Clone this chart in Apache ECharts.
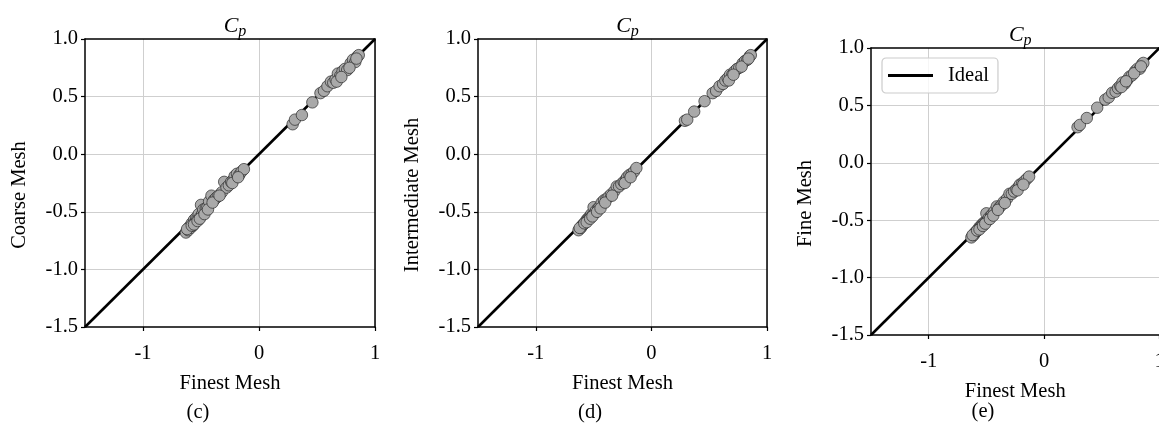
<!DOCTYPE html>
<html><head><meta charset="utf-8">
<script src="https://cdn.jsdelivr.net/npm/echarts@6/dist/echarts.min.js"></script>
<style>html,body{margin:0;padding:0;background:#fff}#c{width:1159px;height:435px}</style>
</head><body><div id="c"></div>
<script>
// ---- data ----
const finest = [-0.63,-0.61,-0.60,-0.59,-0.58,-0.57,-0.56,-0.55,-0.54,-0.53,
  -0.52,-0.51,-0.50,-0.49,-0.48,-0.46,-0.45,-0.43,-0.41,-0.39,
  -0.37,-0.35,-0.32,-0.30,-0.28,-0.26,-0.24,-0.22,-0.21,-0.19,
  -0.17,-0.15,-0.13,
  -0.62,-0.58,-0.56,-0.53,-0.51,-0.47,-0.44,-0.40,-0.34,-0.23,-0.18,
  0.29,0.31,0.37,0.46,0.53,0.56,0.59,0.62,0.64,0.66,
  0.68,0.70,0.72,0.74,0.76,0.79,0.81,0.83,0.85,0.86,
  0.67,0.71,0.78,0.84];
const coarse = [-0.68,-0.66,-0.63,-0.64,-0.60,-0.62,-0.57,-0.59,-0.55,-0.56,
  -0.52,-0.55,-0.44,-0.52,-0.48,-0.47,-0.47,-0.41,-0.36,-0.40,
  -0.38,-0.36,-0.33,-0.24,-0.29,-0.27,-0.24,-0.22,-0.19,-0.17,
  -0.18,-0.15,-0.13,
  -0.65,-0.62,-0.61,-0.58,-0.56,-0.52,-0.48,-0.42,-0.36,-0.25,-0.20,
  0.26,0.30,0.34,0.45,0.53,0.55,0.59,0.63,0.62,0.65,
  0.70,0.68,0.72,0.74,0.73,0.79,0.82,0.80,0.85,0.86,
  0.63,0.67,0.75,0.83];
const intermediate = [-0.66,-0.64,-0.62,-0.61,-0.60,-0.59,-0.57,-0.56,-0.55,-0.54,
  -0.52,-0.53,-0.46,-0.51,-0.49,-0.47,-0.46,-0.42,-0.40,-0.39,
  -0.37,-0.35,-0.32,-0.28,-0.28,-0.26,-0.24,-0.22,-0.20,-0.18,
  -0.17,-0.15,-0.12,
  -0.64,-0.60,-0.59,-0.56,-0.54,-0.50,-0.47,-0.42,-0.36,-0.25,-0.20,
  0.29,0.30,0.37,0.46,0.53,0.55,0.59,0.61,0.64,0.66,
  0.69,0.69,0.72,0.74,0.75,0.79,0.81,0.82,0.85,0.86,
  0.64,0.69,0.76,0.83];
const fine = [-0.65,-0.63,-0.61,-0.60,-0.59,-0.58,-0.56,-0.56,-0.54,-0.53,
  -0.52,-0.52,-0.44,-0.50,-0.48,-0.46,-0.45,-0.42,-0.38,-0.39,
  -0.37,-0.34,-0.31,-0.27,-0.27,-0.25,-0.23,-0.21,-0.19,-0.18,
  -0.16,-0.14,-0.12,
  -0.63,-0.59,-0.58,-0.55,-0.53,-0.49,-0.46,-0.41,-0.35,-0.24,-0.19,
  0.31,0.33,0.39,0.48,0.55,0.57,0.61,0.62,0.65,0.67,
  0.70,0.69,0.72,0.75,0.76,0.80,0.82,0.82,0.86,0.87,
  0.66,0.71,0.78,0.84];
const xTickValues = [-1, 0, 1];
const axisMin = -1.5, axisMax = 1, yInterval = 0.5;
const idealLine = [[-1.5, -1.5], [1, 1]];
const yNames = ['Coarse Mesh', 'Intermediate Mesh', 'Fine Mesh'];
const xName = 'Finest Mesh';
const captions = ['(c)', '(d)', '(e)'];
const legendName = 'Ideal';

// ---- layout / style ----
const FONT = 'Liberation Serif';
const FS = 20.5;
const layouts = [
  {left: 85, top: 39, width: 290, height: 288, yGap: 55, titleY: 7, cap: [198, 413]},
  {left: 478, top: 39, width: 289, height: 288, yGap: 55, titleY: 7, cap: [590, 413]},
  {left: 871, top: 48, width: 288.5, height: 287, yGap: 55, titleY: 16, cap: [983, 412]}
];
const ySets = [coarse, intermediate, fine];

const grid = [], xAxis = [], yAxis = [], series = [], title = [], graphic = [];
layouts.forEach((L, i) => {
  grid.push({left: L.left, top: L.top, width: L.width, height: L.height,
    containLabel: false, outerBoundsMode: 'none'});
  title.push({
    text: '{c|C}{p|p}', left: L.left + L.width / 2, top: L.titleY, textAlign: 'center',
    textStyle: {fontWeight: 'normal', rich: {
      c: {fontFamily: FONT, fontStyle: 'italic', fontWeight: 'normal', fontSize: 22, color: '#000'},
      p: {fontFamily: FONT, fontStyle: 'italic', fontWeight: 'normal', fontSize: 16, color: '#000', padding: [12, 0, 0, 0]}
    }}
  });
  graphic.push({type: 'text', x: L.cap[0], y: L.cap[1],
    style: {text: captions[i], font: FS + 'px "' + FONT + '"', fill: '#000', align: 'center', verticalAlign: 'middle'}});
});
// main axes
layouts.forEach((L, i) => {
  xAxis.push({
    gridIndex: i, type: 'value', min: axisMin, max: axisMax, position: 'bottom',
    axisLine: {show: true, onZero: false, lineStyle: {color: '#000', width: 1.5}},
    axisTick: {show: true, length: 4, customValues: xTickValues, lineStyle: {color: '#000', width: 1.2}},
    axisLabel: {customValues: xTickValues, color: '#000', fontFamily: FONT, fontSize: FS, margin: 16},
    splitLine: {show: true, lineStyle: {color: '#cfcfcf', width: 1}},
    name: xName, nameLocation: 'middle', nameGap: 46,
    nameTextStyle: {color: '#000', fontFamily: FONT, fontSize: FS}
  });
  yAxis.push({
    gridIndex: i, type: 'value', min: axisMin, max: axisMax, interval: yInterval, position: 'left',
    axisLine: {show: true, onZero: false, lineStyle: {color: '#000', width: 1.5}},
    axisTick: {show: true, length: 4, lineStyle: {color: '#000', width: 1.2}},
    axisLabel: {color: '#000', fontFamily: FONT, fontSize: FS, margin: 7, formatter: v => v.toFixed(1)},
    splitLine: {show: true, showMinLine: false, showMaxLine: false, lineStyle: {color: '#cfcfcf', width: 1}},
    name: yNames[i], nameLocation: 'middle', nameRotate: 90, nameGap: L.yGap,
    nameTextStyle: {color: '#000', fontFamily: FONT, fontSize: FS, padding: [0, 24, 0, 0]}
  });
});
// frame (top/right spines)
layouts.forEach((L, i) => {
  xAxis.push({gridIndex: i, type: 'value', min: axisMin, max: axisMax, position: 'top', z: 5,
    axisLine: {show: true, onZero: false, lineStyle: {color: '#000', width: 1.5}},
    axisTick: {show: false}, axisLabel: {show: false}, splitLine: {show: false}});
  yAxis.push({gridIndex: i, type: 'value', min: axisMin, max: axisMax, position: 'right', z: 5,
    axisLine: {show: true, onZero: false, lineStyle: {color: '#000', width: 1.5}},
    axisTick: {show: false}, axisLabel: {show: false}, splitLine: {show: false}});
});
layouts.forEach((L, i) => {
  series.push({
    name: legendName, type: 'line', xAxisIndex: i, yAxisIndex: i, data: idealLine,
    showSymbol: false, symbol: 'none', lineStyle: {color: '#000', width: 2.6}, z: 2, silent: true
  });
  series.push({
    name: 'points', type: 'scatter', xAxisIndex: i, yAxisIndex: i,
    data: finest.map((x, j) => [x, ySets[i][j]]),
    symbolSize: 11.5, itemStyle: {color: '#a9a9a9', borderColor: '#2a2a2a', borderWidth: 0.7, opacity: 1}, z: 3
  });
});

const chart = echarts.init(document.getElementById('c'), null, {renderer: 'canvas'});
chart.setOption({
  animation: false,
  backgroundColor: '#fff',
  title, grid, xAxis, yAxis, series, graphic,
  legend: {
    data: [{name: legendName, icon: 'rect', itemStyle: {color: '#000'}}],
    left: 882, top: 58, orient: 'vertical',
    itemWidth: 45, itemHeight: 3, itemGap: 0,
    padding: [7, 9, 7, 6],
    borderColor: '#cccccc', borderWidth: 1.2, borderRadius: 4, backgroundColor: 'rgba(255,255,255,0.8)',
    textStyle: {color: '#000', fontFamily: FONT, fontSize: FS, padding: [0, 0, 0, 10]}
  }
});
</script></body></html>
